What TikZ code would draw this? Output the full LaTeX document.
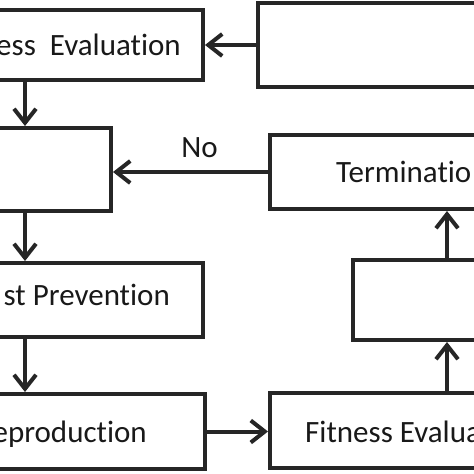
\documentclass[tikz,border=0pt]{standalone}
\usepackage{fontspec}
\setmainfont{Carlito}[Ligatures=NoCommon]
\usetikzlibrary{arrows.meta,positioning}
\definecolor{boxline}{HTML}{262626}
\tikzset{
	stagebox/.style={draw=boxline, line width=4pt, inner sep=0pt},
	flowarrow/.style={draw=boxline, line width=4pt, -{Straight Barb[length=14pt,width=22pt]}},
	stagetext/.style={font=\fontsize{31}{36}\selectfont, text=black!90, inner sep=0pt}
}

\begin{document}
\begin{tikzpicture}[x=1pt, y=-1pt]
			%%%%% START %%%%%
			\useasboundingbox (0, 0) rectangle (474, 474);
			\fill[white] (0, 0) rectangle (474, 474);
			\clip (0, 0) rectangle (474, 474);
			
			% left column
			\node[stagebox, minimum width=283, minimum height=70] (evalA) at (61.5, 45) {};
			\node[stagebox, minimum width=191, minimum height=83] (select) at (15.5, 169.5) {};
			\node[stagebox, minimum width=283, minimum height=74] (incest) at (61.5, 300) {};
			\node[stagebox, minimum width=285, minimum height=75] (reprod) at (62.5, 431.5) {};
			
			% right column
			\node[stagebox, minimum width=302, minimum height=84] (init) at (409, 45) {};
			\node[stagebox, minimum width=290, minimum height=74] (term) at (415, 172) {};
			\node[stagebox, minimum width=207, minimum height=80] (restart) at (456.5, 300) {};
			\node[stagebox, minimum width=290, minimum height=75] (evalB) at (415, 430.5) {};
			
			% texts
			\node[stagetext, anchor=base east] (tA) at (181, 55) {ess\ \ Evaluation};
			\node[stagetext, anchor=base west] (tT) at (336, 182) {Terminatio};
			\node[stagetext, anchor=base east] (tI) at (170, 305) {st Prevention};
			\node[stagetext, anchor=base east] (tR) at (147, 442) {eproduction};
			\node[stagetext, anchor=base west] (tB) at (305, 442) {Fitness Evalua};
			\node[stagetext, anchor=base] (no) at (199.5, 157) {No};
			
			\coordinate (lx) at (25, 0);
			\coordinate (rx) at (447, 0);
			
			% arrows
			\draw[flowarrow] (init.west) -- (evalA.east);
			\draw[flowarrow] (evalA.south -| lx) -- (select.north -| lx);
			\draw[flowarrow] (term.west) -- (select.east |- term.west);
			\draw[flowarrow] (select.south -| lx) -- (incest.north -| lx);
			\draw[flowarrow] (incest.south -| lx) -- (reprod.north -| lx);
			\draw[flowarrow] (reprod.east) -- (evalB.west |- reprod.east);
			\draw[flowarrow] (evalB.north -| rx) -- (restart.south -| rx);
			\draw[flowarrow] (restart.north -| rx) -- (term.south -| rx);
			
			%%%%% END %%%%%
\end{tikzpicture}
\end{document}
